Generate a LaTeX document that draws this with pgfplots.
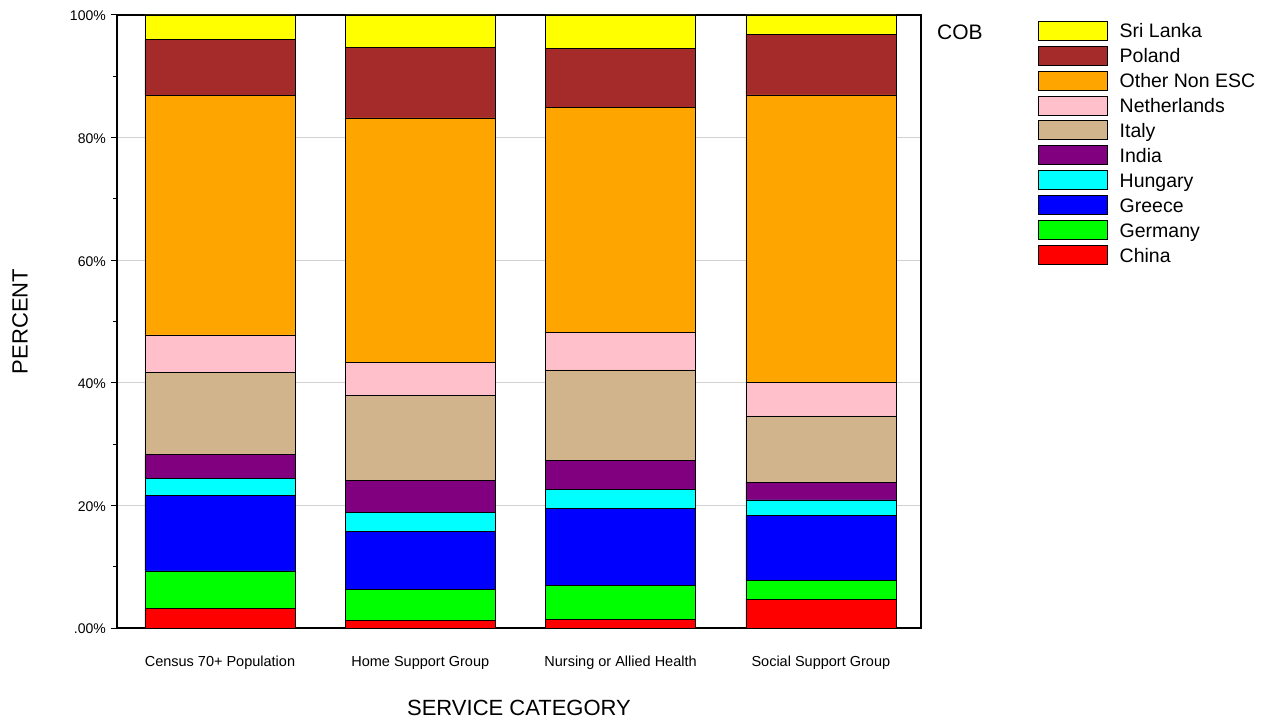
\documentclass[border=0pt]{standalone}
\usepackage{fontspec}
\setmainfont{Liberation Sans}
\usepackage{pgfplots}
\usepackage{pgfplotstable}
\pgfplotsset{compat=1.18}
\definecolor{cSri}{RGB}{255,255,0}
\definecolor{cPol}{RGB}{165,42,42}
\definecolor{cOth}{RGB}{255,165,0}
\definecolor{cNet}{RGB}{255,192,203}
\definecolor{cIta}{RGB}{210,180,140}
\definecolor{cInd}{RGB}{128,0,128}
\definecolor{cHun}{RGB}{0,255,255}
\definecolor{cGre}{RGB}{0,0,255}
\definecolor{cGer}{RGB}{0,255,0}
\definecolor{cChi}{RGB}{255,0,0}
\pgfplotstableread{
x China Germany Greece Hungary India Italy Netherlands Other Poland Sri
0 3.2 6.1 12.3 2.8 3.9 13.4 6.1 39.1 9.1 4.0
1 1.25 5.05 9.5 3.0 5.3 13.9 5.3 39.9 11.5 5.3
2 1.35 5.55 12.6 3.1 4.8 14.7 6.1 36.7 9.6 5.5
3 4.7 3.1 10.5 2.6 2.9 10.8 5.4 46.95 9.85 3.2
}\data
\begin{document}
\begin{tikzpicture}
\useasboundingbox (0,0) rectangle (1277pt,724pt);
\begin{axis}[
  at={(117pt,96pt)}, anchor=south west,
  scale only axis, width=804pt, height=613pt,
  ybar stacked, bar width=150pt,
  every axis plot post/.append style={draw=black, line width=0.7pt,
    legend image code/.code={\draw[#1] (0pt,-2.5pt) rectangle (69pt,16.5pt);}},
  xmin=-0.514, xmax=3.5, ymin=0, ymax=100,
  xtick={0,1,2,3},
  xticklabels={Census 70+ Population, Home Support Group, Nursing or Allied Health, Social Support Group},
  major x tick style={draw=none},
  ytick={0,20,40,60,80,100},
  yticklabels={.00\%,20\%,40\%,60\%,80\%,100\%},
  minor y tick num=1,
  tick align=outside, tick pos=left,
  major tick length=6pt, minor tick length=4pt,
  tick style={line width=1pt, black},
  ymajorgrids, grid style={line width=0.8pt, gray!35},
  axis line style={line width=1.2pt},
  yticklabel style={font=\fontsize{14}{16}\selectfont, anchor=east, inner sep=0pt, xshift=-5pt, yshift=-1pt},
  xticklabel style={font=\fontsize{14.5}{16}\selectfont, anchor=base, inner sep=0pt, yshift=-32pt},
  xlabel={SERVICE CATEGORY},
  ylabel={PERCENT},
  label style={font=\fontsize{22}{24}\selectfont},
  xlabel style={at={(rel axis cs:0.5,-0.1305)}, anchor=center},
  ylabel style={at={(rel axis cs:-0.1206,0.5)}, anchor=center},
  reverse legend,
  legend style={at={(rel axis cs:1.1455,0.9907)}, anchor=north west,
    draw=none, fill=none, inner sep=0pt, outer sep=0pt,
    row sep=4.1pt, column sep=12pt,
    font=\fontsize{19.5}{20}\selectfont,
    nodes={inner sep=0pt, text height=13.5pt, text depth=4pt},
    cells={anchor=base west}},
  clip=false,
]
\addplot[fill=cChi] table[x=x,y=China]{\data};
\addplot[fill=cGer] table[x=x,y=Germany]{\data};
\addplot[fill=cGre] table[x=x,y=Greece]{\data};
\addplot[fill=cHun] table[x=x,y=Hungary]{\data};
\addplot[fill=cInd] table[x=x,y=India]{\data};
\addplot[fill=cIta] table[x=x,y=Italy]{\data};
\addplot[fill=cNet] table[x=x,y=Netherlands]{\data};
\addplot[fill=cOth] table[x=x,y=Other]{\data};
\addplot[fill=cPol] table[x=x,y=Poland]{\data};
\addplot[fill=cSri] table[x=x,y=Sri]{\data};
\legend{China,Germany,Greece,Hungary,India,Italy,Netherlands,Other Non ESC,Poland,Sri Lanka}
\node[font=\fontsize{21}{24}\selectfont] at (rel axis cs:1.0485,0.9723) {COB};
\end{axis}
\end{tikzpicture}
\end{document}
